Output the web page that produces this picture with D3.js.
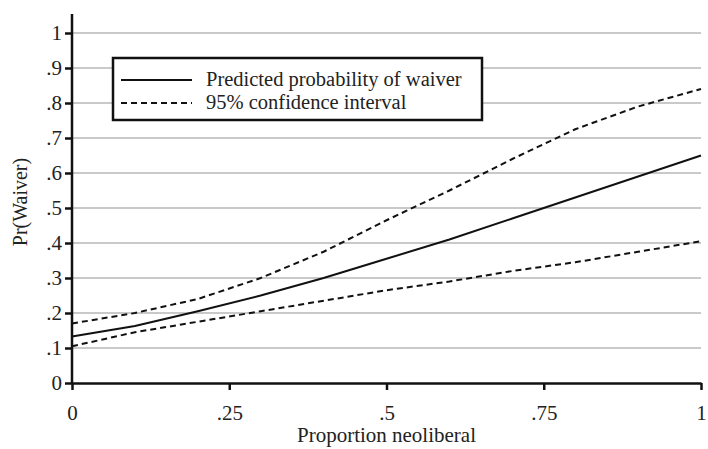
<!DOCTYPE html>
<html>
<head>
<meta charset="utf-8">
<script src="https://cdn.jsdelivr.net/npm/d3@7"></script>
<style>
  html, body { margin: 0; padding: 0; background: #fff; }
  svg { display: block; }
  svg text { font-family: "Liberation Serif", "Times New Roman", Times, serif !important; }
</style>
</head>
<body>
<div id="chart"></div>
<script>
// values
const xVals = [0, 0.1, 0.2, 0.3, 0.4, 0.5, 0.6, 0.7, 0.8, 0.9, 1];
const predicted = [0.133, 0.163, 0.205, 0.25, 0.30, 0.355, 0.41, 0.47, 0.53, 0.59, 0.65];
const upperCI = [0.17, 0.20, 0.24, 0.30, 0.375, 0.465, 0.55, 0.64, 0.725, 0.79, 0.84];
const lowerCI = [0.105, 0.145, 0.175, 0.205, 0.235, 0.265, 0.29, 0.32, 0.345, 0.375, 0.405];
const xTicks = [0, 0.25, 0.5, 0.75, 1];
const xTickLabels = ["0", ".25", ".5", ".75", "1"];
const yTicks = [0, 0.1, 0.2, 0.3, 0.4, 0.5, 0.6, 0.7, 0.8, 0.9, 1];
const yTickLabels = ["0", ".1", ".2", ".3", ".4", ".5", ".6", ".7", ".8", ".9", "1"];
const legendLabels = ["Predicted probability of waiver", "95% confidence interval"];

const width = 708, height = 449;
const margin = {top: 33, right: 7, bottom: 66, left: 72};
const w = width - margin.left - margin.right;
const h = height - margin.top - margin.bottom;

const svg = d3.select("#chart").append("svg")
    .attr("width", width)
    .attr("height", height);

const g = svg.append("g")
    .attr("transform", "translate(" + margin.left + "," + margin.top + ")");

const x = d3.scaleLinear().domain([0, 1]).range([0, w]);
const y = d3.scaleLinear().domain([0, 1]).range([h, 0]);

// gridlines
g.append("g")
    .selectAll("line")
    .data(yTicks.filter(d => d > 0))
    .enter().append("line")
    .attr("x1", 0).attr("x2", w)
    .attr("y1", d => y(d)).attr("y2", d => y(d))
    .attr("stroke", "#c9c9c9")
    .attr("stroke-width", 2);

// x axis
const xAxis = g.append("g")
    .attr("transform", "translate(0," + h + ")")
    .call(d3.axisBottom(x).tickValues(xTicks)
        .tickFormat((d, i) => xTickLabels[i]).tickSizeInner(7).tickSizeOuter(0).tickPadding(15));
xAxis.attr("font-family", null);
xAxis.select(".domain").attr("stroke", "#111").attr("stroke-width", 2.5);
xAxis.selectAll(".tick line").attr("stroke", "#111").attr("stroke-width", 2.5);
xAxis.selectAll("text").style("font-size", "21px").attr("fill", "#222");

// y axis
const yAxis = g.append("g")
    .call(d3.axisLeft(y).tickValues(yTicks)
        .tickFormat((d, i) => yTickLabels[i]).tickSizeInner(7).tickSizeOuter(0).tickPadding(3));
yAxis.attr("font-family", null);
yAxis.select(".domain").attr("d", "M0," + (h + 1) + "V" + (-19))
    .attr("stroke", "#111").attr("stroke-width", 2.5);
yAxis.selectAll(".tick line").attr("stroke", "#111").attr("stroke-width", 2.5);
yAxis.selectAll("text").style("font-size", "21px").attr("fill", "#222");

// axis titles
g.append("text")
    .attr("x", w / 2)
    .attr("y", h + 59)
    .attr("text-anchor", "middle")
    .style("font-size", "21px")
    .attr("fill", "#222")
    .text("Proportion neoliberal");

g.append("text")
    .attr("transform", "rotate(-90)")
    .attr("x", -169)
    .attr("y", -45)
    .attr("text-anchor", "middle")
    .style("font-size", "20px")
    .attr("fill", "#222")
    .text("Pr(Waiver)");

// lines
const line = d3.line()
    .x(d => x(d[0]))
    .y(d => y(d[1]))
    .curve(d3.curveLinear);

const series = [
  {vals: upperCI, dash: "6,4"},
  {vals: lowerCI, dash: "6,4"},
  {vals: predicted, dash: null}
];

series.forEach(s => {
  g.append("path")
      .datum(xVals.map((v, i) => [v, s.vals[i]]))
      .attr("fill", "none")
      .attr("stroke", "#111")
      .attr("stroke-width", 2)
      .attr("stroke-dasharray", s.dash)
      .attr("d", line);
});

// legend
const legend = svg.append("g").attr("transform", "translate(113,58)");
legend.append("rect")
    .attr("width", 369).attr("height", 62)
    .attr("fill", "#fff")
    .attr("stroke", "#111")
    .attr("stroke-width", 2.5);

legendLabels.forEach((lab, i) => {
  const ly = 22 + i * 23;
  legend.append("line")
      .attr("x1", 8).attr("x2", 79)
      .attr("y1", ly).attr("y2", ly)
      .attr("stroke", "#111")
      .attr("stroke-width", 2)
      .attr("stroke-dasharray", i === 0 ? null : "6,4");
  legend.append("text")
      .attr("x", 93)
      .attr("y", ly + 6)
      .style("font-size", "20.5px")
      .attr("fill", "#222")
      .text(lab);
});
</script>
</body>
</html>
